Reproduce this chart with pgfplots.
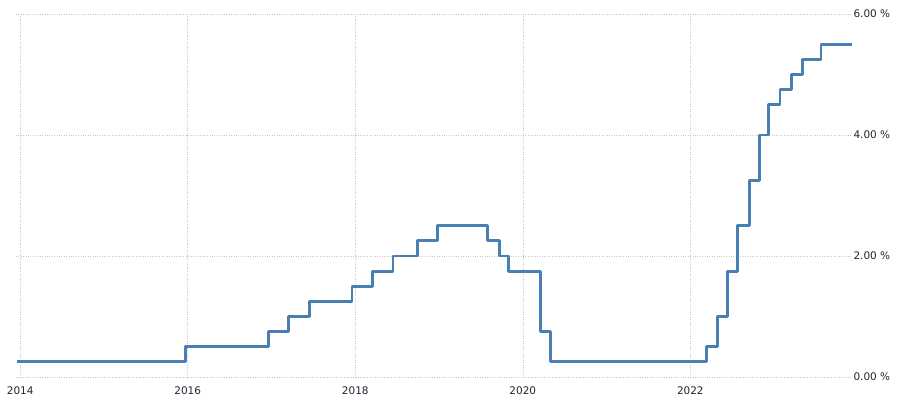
\documentclass[border=0pt]{standalone}
\usepackage{pgfplots}
\pgfplotsset{compat=1.18}
\usepackage{fontspec}
\setmainfont{DejaVu Sans}
\definecolor{rateblue}{RGB}{72,128,180}
\definecolor{gridgray}{RGB}{200,200,200}
\definecolor{labelgray}{RGB}{35,35,50}

\begin{document}
\begin{tikzpicture}
  \useasboundingbox (-16bp,-30bp) rectangle (884bp,377bp);
  \begin{axis}[
      scale only axis,
      width=836bp, height=363bp,
      xmin=2013.95, xmax=2023.93,
      ymin=0, ymax=6,
      axis line style={draw=none},
      major tick length=0pt,
      xtick={2014,2016,2018,2020,2022},
      ytick={0,2,4,6},
      grid=major,
      major grid style={gridgray, dotted, line width=0.6bp},
      yticklabel pos=right,
      xticklabel style={font=\fontsize{10.5}{12}\selectfont, text=labelgray, yshift=-6bp},
      yticklabel style={font=\fontsize{10.5}{12}\selectfont, text=labelgray, anchor=west, xshift=-2bp},
      xticklabel={\pgfmathprintnumber[1000 sep={},fixed,precision=0]{\tick}},
      yticklabel={\pgfmathprintnumber[fixed,fixed zerofill,precision=2]{\tick}~\%},
      /pgf/number format/assume math mode=true,
      clip=false,
    ]
    \addplot[const plot, rateblue, line width=2.8bp, line join=round] coordinates {
      (2013.96,0.25) (2015.97,0.50) (2016.96,0.75) (2017.20,1.00)
      (2017.45,1.25) (2017.96,1.50) (2018.21,1.75) (2018.45,2.00)
      (2018.74,2.25) (2018.98,2.50) (2019.58,2.25) (2019.72,2.00)
      (2019.83,1.75) (2020.21,0.75) (2020.33,0.25) (2022.19,0.50)
      (2022.32,1.00) (2022.44,1.75) (2022.56,2.50) (2022.71,3.25)
      (2022.83,4.00) (2022.93,4.50) (2023.07,4.75) (2023.21,5.00)
      (2023.34,5.25) (2023.56,5.50) (2023.93,5.50)
    };
  \end{axis}
\end{tikzpicture}
\end{document}
